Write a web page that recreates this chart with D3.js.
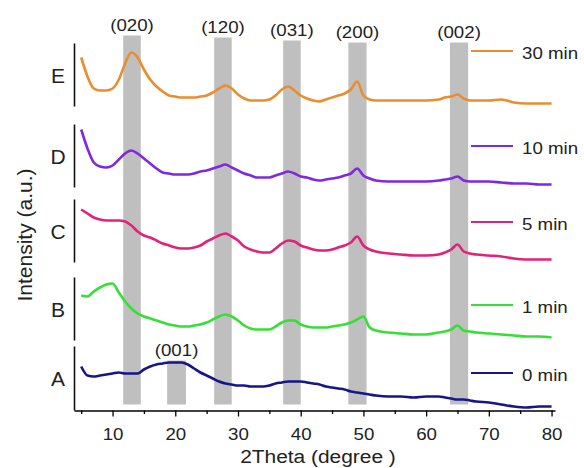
<!DOCTYPE html>
<html>
<head>
<meta charset="utf-8">
<script src="https://cdn.jsdelivr.net/npm/d3@7"></script>
<style>
  body { margin: 0; background: #fff; }
  svg { display: block; font-family: "Liberation Sans", Arial, sans-serif; }
</style>
</head>
<body>
<div id="chart"></div>
<script>
let width = 584;
let height = 468;

// 2theta grid (degree) shared by all patterns
const twoTheta = [5,6,7,8,9,10,11,12,13,14,15,16,17,18,19,20,21,22,23,24,25,26,27,28,29,30,
  31,32,33,34,35,36,37,38,39,40,41,42,43,44,45,46,47,48,49,50,51,52,
  54,56,58,60,62,63,64,65,66,67,68,70,72,74,76,78,80];

// intensities (a.u.), each relative to its own tail
const intA = [40,31,30,31,32,33,34,33,33,33,37,40,42,43,44,44,44,42,38,34,31,28,25,23,22,21,
  21,20,20,20,21,23,24,25,25,25,24,23,22,20,19,18,17,15,14,13,12,11,
  10,10,9,10,10,9,8,7,7,6,5,4,2,0,-1,0,0];
const intB = [42,41,46,50,53,54,45,36,29,24,21,19,17,15,13,12,11,11,12,13,15,18,21,23,21,17,
  12,9,8,8,8,11,15,17,17,13,11,10,10,10,11,12,13,15,18,21,10,7,
  5,4,3,3,5,6,8,12,7,6,5,4,3,2,1,1,0];
const intC = [50,46,42,40,39,39,39,38,34,28,24,22,19,16,14,12,11,11,12,14,18,21,24,26,23,19,
  13,10,8,7,7,11,16,19,18,14,12,10,9,9,10,12,14,17,23,14,10,8,
  6,5,4,4,5,7,10,15,8,6,5,4,3,1,0,0,0];
const intD = [55,36,22,18,17,19,25,31,34,31,26,21,16,12,11,10,10,10,11,13,14,16,18,20,17,14,
  11,9,7,7,7,9,11,13,11,8,7,5,4,5,6,7,9,11,16,9,6,4,
  3,3,3,3,4,5,6,8,4,3,3,3,2,1,1,0,0];
const intE = [46,27,15,13,13,15,24,40,51,46,34,24,17,12,8,7,6,6,6,7,8,11,15,18,15,9,
  5,3,3,3,4,8,14,17,13,8,5,3,2,4,6,8,10,14,22,8,4,3,
  3,3,3,3,4,6,7,9,5,3,3,3,4,1,0,0,0];

const sampleNames = ["A", "B", "C", "D", "E"];
const times = ["0 min", "1 min", "5 min", "10 min", "30 min"];
const offsets = [4, 73, 151, 226, 307];
const colors = ["#16168a", "#35e035", "#e2217a", "#8029dc", "#e98d2f"];

// reflections marked with grey bands
const hkl = ["(020)", "(001)", "(120)", "(031)", "(200)", "(002)"];
const hklFrom = [11.7, 18.7, 26.2, 37.2, 47.6, 63.8];
const hklTo = [14.5, 21.7, 29.0, 40.0, 50.5, 66.7];
const hklTop = [375, 50, 373, 370, 368, 368];

const xTicks = [10, 20, 30, 40, 50, 60, 70, 80];
const xMinor = [5, 15, 25, 35, 45, 55, 65, 75];

// layout
const legendY = [373, 305, 222, 146, 51];
const stretch = "scale(1.1,1)";

let x = d3.scaleLinear().domain([3.85, 80.55]).range([74, 555]);
let y = d3.scaleLinear().domain([0, 380]).range([410.5, 30.5]);

let svg = d3.select("#chart").append("svg")
  .attr("width", width)
  .attr("height", height);

// grey bands
const bands = hkl.map((h, i) => ({ label: h, from: hklFrom[i], to: hklTo[i], top: hklTop[i] }));

svg.append("g").selectAll("rect")
  .data(bands)
  .join("rect")
  .attr("x", d => x(d.from))
  .attr("width", d => x(d.to) - x(d.from))
  .attr("y", d => y(d.top))
  .attr("height", d => y(6) - y(d.top))
  .attr("fill", "#bfbfbf");

svg.append("g").selectAll("text")
  .data(bands)
  .join("text")
  .attr("transform", d => `translate(${x((d.from + d.to) / 2)},${y(d.top) - 5}) ${stretch}`)
  .attr("text-anchor", "middle")
  .style("font-size", "17px")
  .attr("fill", "#222")
  .text(d => d.label);

// patterns
const patterns = [intA, intB, intC, intD, intE].map((vals, i) => ({
  name: sampleNames[i],
  time: times[i],
  color: colors[i],
  offset: offsets[i],
  points: twoTheta.map((t, j) => [t, vals[j] + offsets[i]])
}));

let line = d3.line()
  .x(d => x(d[0]))
  .y(d => y(d[1]))
  .curve(d3.curveMonotoneX);

svg.append("g").selectAll("path")
  .data(patterns)
  .join("path")
  .attr("d", d => line(d.points))
  .attr("fill", "none")
  .attr("stroke", d => d.color)
  .attr("stroke-width", 2.6)
  .attr("stroke-linejoin", "round");

// x axis
let xAxis = svg.append("g")
  .attr("transform", `translate(0,${y(0)})`)
  .call(d3.axisBottom(x).tickValues(xTicks).tickSize(6).tickSizeOuter(0));
xAxis.select(".domain").attr("stroke-width", 1.6);
xAxis.selectAll(".tick line").attr("stroke-width", 1.3);
xAxis.selectAll(".tick text")
  .attr("y", 29.5).attr("dy", null)
  .attr("transform", stretch)
  .style("font-size", "17px")
  .attr("fill", "#222")
  .attr("font-family", null);

let minor = svg.append("g")
  .attr("transform", `translate(0,${y(0)})`)
  .call(d3.axisBottom(x).tickValues(xMinor).tickSize(3.5).tickFormat(""));
minor.select(".domain").remove();
minor.selectAll(".tick line").attr("stroke-width", 1.3);

svg.append("text")
  .attr("transform", `translate(318,463) ${stretch}`)
  .attr("text-anchor", "middle")
  .style("font-size", "19px")
  .attr("fill", "#222")
  .text("2Theta (degree )");

// per-pattern vertical bars and letters
let seg = svg.append("g").selectAll("g")
  .data(patterns)
  .join("g");

seg.append("line")
  .attr("x1", 74.5).attr("x2", 74.5)
  .attr("y1", d => d.offset === offsets[0] ? y(0) : y(d.offset - 3))
  .attr("y2", d => y(d.offset + 60))
  .attr("stroke", "#111")
  .attr("stroke-width", 1.6);

seg.append("text")
  .attr("x", 58)
  .attr("y", d => y(d.offset + 28.5) + 7.5)
  .attr("text-anchor", "middle")
  .style("font-size", "21px")
  .attr("fill", "#222")
  .text(d => d.name);

svg.append("text")
  .attr("transform", "translate(32,235) rotate(-90)")
  .attr("text-anchor", "middle")
  .style("font-size", "21px")
  .attr("fill", "#222")
  .text("Intensity (a.u.)");

// legend
let legend = svg.append("g").selectAll("g")
  .data(patterns)
  .join("g")
  .attr("transform", (d, i) => `translate(471,${legendY[i]})`);

legend.append("line")
  .attr("x1", 0).attr("x2", 42)
  .attr("stroke", d => d.color)
  .attr("stroke-width", 2.2);

legend.append("text")
  .attr("transform", `translate(51,8) ${stretch}`)
  .style("font-size", "17px")
  .attr("fill", "#222")
  .text(d => d.time);
</script>
</body>
</html>
